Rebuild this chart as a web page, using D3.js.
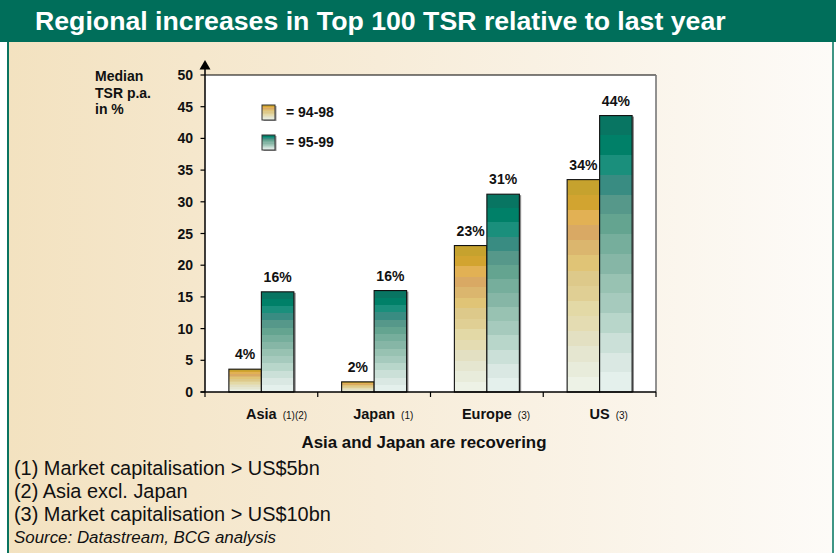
<!DOCTYPE html>
<html>
<head>
<meta charset="utf-8">
<script src="https://cdn.jsdelivr.net/npm/d3@7"></script>
<style>
html,body{margin:0;padding:0;background:#fff;}
svg{display:block;font-family:"Liberation Sans",Arial,Helvetica,sans-serif;}
</style>
</head>
<body>
<svg id="chart" width="836" height="553"></svg>
<script>
// ---- data ----
const categories = ["Asia", "Japan", "Europe", "US"];
const categoryNotes = ["(1)(2)", "(1)", "(3)", "(3)"];
const seriesNames = ["94-98", "95-99"];
const values9498 = [3.6, 1.6, 23.1, 33.5];
const values9599 = [15.8, 16.0, 31.2, 43.6];
const labels9498 = ["4%", "2%", "23%", "34%"];
const labels9599 = ["16%", "16%", "31%", "44%"];
const yTicks = [0, 5, 10, 15, 20, 25, 30, 35, 40, 45, 50];
const title = "Regional increases in Top 100 TSR relative to last year";
const yLabelLines = ["Median", "TSR p.a.", "in %"];
const xTitle = "Asia and Japan are recovering";
const footnotes = ["(1) Market capitalisation > US$5bn", "(2) Asia excl. Japan", "(3) Market capitalisation > US$10bn"];
const sourceNote = "Source: Datastream, BCG analysis";

// band colours (top -> bottom)
const goldBands = ["#c6a22e","#d2a430","#e2b154","#d9a964","#dbb66e","#e0c476","#ddc98a","#e0cf94","#e3d9a6","#e4dcb2","#e3e0c2","#e5e6d0","#e8ecdb","#edf2e6"];
const tealBands = ["#087562","#008068","#1a8f7c","#398c82","#56988a","#64a490","#76ae9c","#86b6a6","#98c2b2","#a6cabd","#b8d6ca","#cbe0d8","#dae8e3","#e4f0ec"];

const svg = d3.select("#chart");
const W = 836, H = 553;
const defs = svg.append("defs");

// background gradient
const bg = defs.append("linearGradient").attr("id","bg").attr("x1",0).attr("y1",0).attr("x2",1).attr("y2",0);
bg.append("stop").attr("offset","0%").attr("stop-color","#f3e2c0");
bg.append("stop").attr("offset","45%").attr("stop-color","#f7ecd8");
bg.append("stop").attr("offset","100%").attr("stop-color","#fdfbf8");

function bandGradient(id, cols){
  const g = defs.append("linearGradient").attr("id",id).attr("x1",0).attr("y1",0).attr("x2",0).attr("y2",1);
  const n = cols.length;
  cols.forEach((c,i)=>{
    g.append("stop").attr("offset",(i/n*100)+"%").attr("stop-color",c);
    g.append("stop").attr("offset",((i+1)/n*100)+"%").attr("stop-color",c);
  });
}
bandGradient("gold", goldBands);
bandGradient("teal", tealBands);
const fills = ["url(#gold)","url(#teal)"];

// frame
svg.append("rect").attr("x",0).attr("y",0).attr("width",W).attr("height",H).attr("fill","#fff");
svg.append("rect").attr("x",8).attr("y",41).attr("width",825).attr("height",H-41).attr("fill","url(#bg)");
svg.append("line").attr("x1",8).attr("x2",8).attr("y1",41).attr("y2",H).attr("stroke","#0a7360").attr("stroke-width",2);
svg.append("line").attr("x1",833).attr("x2",833).attr("y1",41).attr("y2",H).attr("stroke","#3e9585").attr("stroke-width",2);
svg.append("rect").attr("x",0).attr("y",0).attr("width",W).attr("height",42).attr("fill","#006e5a");
svg.append("text").attr("x",35).attr("y",30).attr("fill","#fff")
  .attr("font-size",26.7).attr("font-weight","bold").text(title);

// scales
const x = d3.scaleBand().domain(categories).range([205, 656]).paddingInner(0).paddingOuter(0);
const xs = d3.scaleBand().domain(seriesNames).range([0, x.bandwidth()]).paddingInner(0).paddingOuter(0.735);
const y = d3.scaleLinear().domain([0, 50]).range([392, 75]);

// plot area
svg.append("rect").attr("x",205).attr("y",y(50)).attr("width",656-205).attr("height",y(0)-y(50)).attr("fill","#fff");
svg.append("line").attr("x1",205).attr("x2",656).attr("y1",y(50)).attr("y2",y(50)).attr("stroke","#000").attr("stroke-width",1.2);
svg.append("line").attr("x1",656).attr("x2",656).attr("y1",y(50)).attr("y2",y(0)).attr("stroke","#777").attr("stroke-width",1.6);

// bars
const seriesVals = [values9498, values9599];
const seriesLabels = [labels9498, labels9599];
seriesNames.forEach((s, si) => {
  const g = svg.append("g");
  const data = categories.map((c, i) => ({c, v: seriesVals[si][i], lab: seriesLabels[si][i]}));
  g.selectAll("rect.sh").data(data).enter().append("rect")
    .attr("x", d => x(d.c) + xs(s) + xs.bandwidth())
    .attr("y", d => y(d.v) + 1)
    .attr("width", 1.8)
    .attr("height", d => y(0) - y(d.v) - 1)
    .attr("fill", "#8a8a8a");
  g.selectAll("rect.bar").data(data).enter().append("rect")
    .attr("x", d => x(d.c) + xs(s))
    .attr("y", d => y(d.v))
    .attr("width", xs.bandwidth())
    .attr("height", d => y(0) - y(d.v))
    .attr("fill", fills[si])
    .attr("stroke", "#111").attr("stroke-width", 1.1);
  g.selectAll("text").data(data).enter().append("text")
    .attr("x", d => x(d.c) + xs(s) + xs.bandwidth()/2)
    .attr("y", d => y(d.v) - 10)
    .attr("text-anchor","middle").attr("font-size",14).attr("font-weight","bold").attr("fill","#111")
    .text(d => d.lab);
});

// y axis
const yAxisG = svg.append("g");
yAxisG.append("line").attr("x1",205).attr("x2",205).attr("y1",68).attr("y2",y(0)).attr("stroke","#000").attr("stroke-width",1.5);
yAxisG.append("path").attr("d","M205,60 L210.5,69.5 L199.5,69.5 Z").attr("fill","#000");
yAxisG.selectAll("line.t").data(yTicks).enter().append("line")
  .attr("x1",200.5).attr("x2",205).attr("y1",d=>y(d)).attr("y2",d=>y(d)).attr("stroke","#000").attr("stroke-width",1.2);
yAxisG.selectAll("text").data(yTicks).enter().append("text")
  .attr("x",193).attr("y",d=>y(d)+5).attr("text-anchor","end")
  .attr("font-size",14).attr("font-weight","bold").attr("fill","#111").text(d=>d);

// x axis
const bounds = categories.map(c => x(c)).concat([656]);
svg.append("line").attr("x1",200.5).attr("x2",656).attr("y1",y(0)).attr("y2",y(0)).attr("stroke","#000").attr("stroke-width",1.5);
svg.selectAll("line.xt").data(bounds).enter().append("line")
  .attr("x1",d=>d).attr("x2",d=>d).attr("y1",y(0)).attr("y2",y(0)+5).attr("stroke","#000").attr("stroke-width",1.2);

// category labels
categories.forEach((c, i) => {
  const cx = x(c) + x.bandwidth()/2;
  const t = svg.append("text").attr("x", cx).attr("y", 419).attr("font-size",14.5).attr("font-weight","bold").attr("fill","#111").attr("text-anchor","middle").text(c);
  const w = t.node().getComputedTextLength();
  svg.append("text").attr("x", cx + w/2 + 6).attr("y", 419).attr("font-size",10).attr("fill","#111").text(categoryNotes[i]);
});

// y label
yLabelLines.forEach((l, i) => {
  svg.append("text").attr("x",95).attr("y",81 + i*16.5).attr("font-size",14).attr("font-weight","bold").attr("fill","#111").text(l);
});

// legend
seriesNames.forEach((s, i) => {
  const ly = 105 + i*30;
  svg.append("rect").attr("x",263.5).attr("y",ly+1).attr("width",13).attr("height",15).attr("fill","#999");
  svg.append("rect").attr("x",262).attr("y",ly).attr("width",13).attr("height",15).attr("fill",fills[i]).attr("stroke","#333").attr("stroke-width",1);
  svg.append("text").attr("x",286).attr("y",ly+12).attr("font-size",14).attr("font-weight","bold").attr("fill","#111").text("= " + s);
});

// x title
svg.append("text").attr("x",424).attr("y",448).attr("text-anchor","middle").attr("font-size",16.9).attr("font-weight","bold").attr("fill","#111").text(xTitle);

// footnotes
footnotes.forEach((f, i) => {
  svg.append("text").attr("x",14).attr("y",475 + i*23).attr("font-size",19.9).attr("fill","#111").text(f);
});
svg.append("text").attr("x",14).attr("y",543).attr("font-size",16.9).attr("font-style","italic").attr("fill","#111").text(sourceNote);
</script>
</body>
</html>
